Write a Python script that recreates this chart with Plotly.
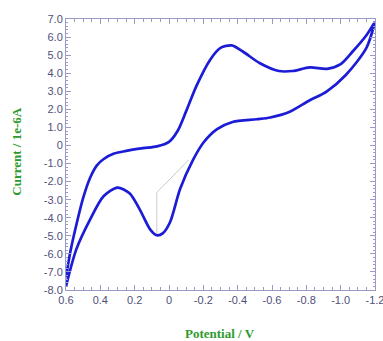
import plotly.graph_objects as go

# Forward sweep (upper branch), potential in V, current in 1e-6 A
upper_E = [0.60, 0.575, 0.54, 0.50, 0.46, 0.42, 0.38, 0.32, 0.25, 0.15, 0.07, 0.0, -0.05, -0.10,
           -0.16, -0.24, -0.30, -0.365, -0.43, -0.53, -0.64, -0.72, -0.82, -0.92, -1.0, -1.07, -1.15, -1.20]
upper_I = [-7.3, -5.9, -4.4, -2.9, -1.8, -1.1, -0.75, -0.45, -0.3, -0.15, -0.05, 0.2, 0.8, 1.9,
           3.3, 4.75, 5.4, 5.54, 5.2, 4.55, 4.12, 4.12, 4.32, 4.24, 4.5, 5.2, 6.1, 6.85]

# Reverse sweep (lower branch)
lower_E = [-1.20, -1.15, -1.03, -0.92, -0.82, -0.70, -0.59, -0.51, -0.37, -0.28, -0.20, -0.14,
           -0.065, -0.006, 0.035, 0.071, 0.11, 0.17, 0.23, 0.30, 0.38, 0.46, 0.54, 0.60]
lower_I = [6.85, 5.4, 3.9, 3.0, 2.5, 1.85, 1.55, 1.45, 1.3, 0.9, 0.15, -0.8,
           -2.4, -4.25, -4.85, -4.97, -4.64, -3.55, -2.65, -2.33, -2.8, -4.1, -5.75, -7.8]

# Peak baseline marker
base_E = [-0.115, 0.071, 0.071]
base_I = [-0.8, -2.6, -4.95]

x_ticks = [0.6, 0.4, 0.2, 0, -0.2, -0.4, -0.6, -0.8, -1.0, -1.2]
x_labels = ["0.6", "0.4", "0.2", "0", "-0.2", "-0.4", "-0.6", "-0.8", "-1.0", "-1.2"]
y_ticks = [7, 6, 5, 4, 3, 2, 1, 0, -1, -2, -3, -4, -5, -6, -7, -8]
y_labels = ["7.0", "6.0", "5.0", "4.0", "3.0", "2.0", "1.0", "0", "-1.0", "-2.0", "-3.0",
            "-4.0", "-5.0", "-6.0", "-7.0", "-8.0"]

fig = go.Figure()
fig.add_trace(go.Scatter(x=base_E, y=base_I, mode="lines",
                         line=dict(color="#cccccc", width=1), hoverinfo="skip"))
fig.add_trace(go.Scatter(x=upper_E + lower_E, y=upper_I + lower_I, mode="lines",
                         line=dict(color="#1c1cd6", width=2.7, shape="spline", smoothing=0.8)))

axis_col = "#9a9ac6"
tick_font = dict(family="Liberation Sans, Arial", size=11, color="#50507a")

fig.update_xaxes(range=[0.6, -1.2], tickvals=x_ticks, ticktext=x_labels,
                 showline=True, linecolor=axis_col, linewidth=1, mirror="allticks",
                 ticks="inside", ticklen=5, tickcolor=axis_col, tickfont=tick_font,
                 ticklabeloverflow="allow", automargin=False,
                 showgrid=False, zeroline=False,
                 minor=dict(tick0=0, dtick=0.05, ticks="inside", ticklen=3, tickcolor=axis_col))
fig.update_yaxes(range=[-8, 7], tickvals=y_ticks, ticktext=y_labels,
                 showline=True, linecolor=axis_col, linewidth=1, mirror="allticks",
                 ticks="inside", ticklen=5, tickcolor=axis_col, tickfont=tick_font,
                 ticklabeloverflow="allow", automargin=False,
                 showgrid=False, zeroline=False,
                 minor=dict(tick0=0, dtick=0.2, ticks="inside", ticklen=2, tickcolor=axis_col))

title_font = dict(family="Liberation Serif, Times New Roman", size=13, color="#2e9a2e")
fig.add_annotation(text="<b>Potential / V</b>", xref="paper", yref="paper", x=0.498, y=-0.159,
                   showarrow=False, font=title_font, xanchor="center", yanchor="middle")
fig.add_annotation(text="<b>Current / 1e-6A</b>", xref="paper", yref="paper", x=-0.159, y=0.51,
                   showarrow=False, font=title_font, textangle=-90, xanchor="center", yanchor="middle")

fig.update_layout(width=383, height=341, margin=dict(l=66, r=8, t=19, b=51),
                  plot_bgcolor="white", paper_bgcolor="white", showlegend=False)

fig.write_html("out.html", config={"displayModeBar": False, "staticPlot": True},
               post_script="document.body.style.margin='0';document.body.style.overflow='hidden';")
